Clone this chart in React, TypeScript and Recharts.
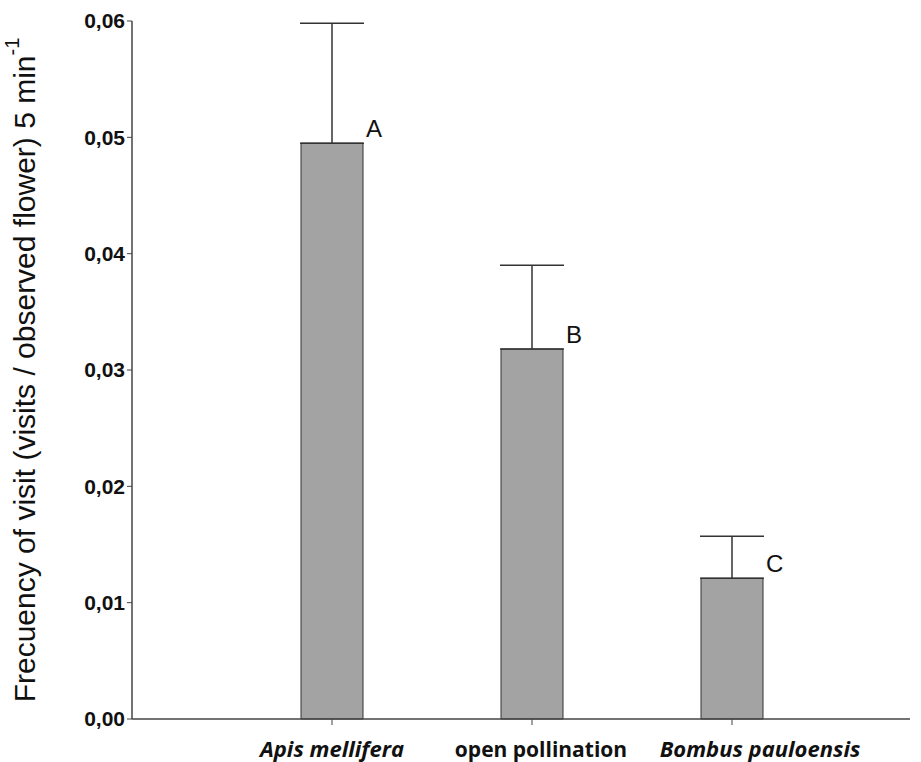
import { Bar, BarChart, ErrorBar, LabelList, XAxis, YAxis } from "recharts";

const categories = ["Apis mellifera", "open pollination", "Bombus pauloensis"];
const italicCats = [true, false, true];
const means = [0.0495, 0.0318, 0.0121];
const upperErr = [0.0103, 0.0072, 0.0036];
const letters = ["A", "B", "C"];
const yTicks = [0, 0.01, 0.02, 0.03, 0.04, 0.05, 0.06];

const data = categories.map((name, i) => ({
  name,
  mean: means[i],
  err: [0, upperErr[i]],
  letter: letters[i],
}));

const axisColor = "#444";
// the category labels in the original are not quite centred on their ticks
const labelShift = [0, 9, 28];

function CatTick({ x, y, payload }: any) {
  const i = categories.indexOf(payload.value);
  return (
    <text
      x={x + labelShift[i]}
      y={y + 30}
      textAnchor="middle"
      fontFamily="'Open Sans', sans-serif"
      fontWeight={700}
      fontStyle={italicCats[i] ? "italic" : "normal"}
      fontSize={italicCats[i] ? 22 : 21}
      fill="#111"
    >
      {payload.value}
    </text>
  );
}

function YTitle({ viewBox }: any) {
  const cy = viewBox.y + viewBox.height / 2;
  const cx = 24;
  return (
    <text
      x={cx}
      y={cy}
      transform={`rotate(-90 ${cx} ${cy})`}
      textAnchor="middle"
      dominantBaseline="central"
      fontFamily="'Liberation Sans', Arial, sans-serif"
      fontSize={30}
      fill="#111"
    >
      Frecuency of visit (visits / observed flower) 5 min
      <tspan dy={-12} fontSize={20}>
        -1
      </tspan>
    </text>
  );
}

function LetterLabel({ x, y, width, value }: any) {
  return (
    <text
      x={x + width + 3}
      y={y - 6}
      fontFamily="'Liberation Sans', Arial, sans-serif"
      fontSize={24}
      fill="#111"
    >
      {value}
    </text>
  );
}

export default function App() {
  return (
    <div style={{ position: "absolute", left: 0, top: 0, background: "#fff" }}>
      <BarChart
        width={921}
        height={762}
        data={data}
        margin={{ top: 21, right: 11, bottom: 0, left: 0 }}
      >
        <XAxis
          dataKey="name"
          height={43}
          padding={{ left: 100, right: 78 }}
          axisLine={{ stroke: axisColor, strokeWidth: 1.5 }}
          tickLine={{ stroke: axisColor }}
          tickSize={6}
          tick={<CatTick />}
          interval={0}
        />
        <YAxis
          width={132}
          domain={[0, 0.06]}
          ticks={yTicks}
          tickFormatter={(v: number) => v.toFixed(2).replace(".", ",")}
          axisLine={{ stroke: axisColor, strokeWidth: 1.5 }}
          tickLine={{ stroke: axisColor }}
          tickSize={5}
          tickMargin={2}
          tick={{
            fontFamily: "'Liberation Sans', Arial, sans-serif",
            fontWeight: 700,
            fontSize: 21,
            fill: "#111",
          }}
          label={<YTitle />}
        />
        <Bar
          dataKey="mean"
          barSize={62}
          fill="#a3a3a3"
          stroke="#333"
          strokeWidth={1}
          isAnimationActive={false}
        >
          <ErrorBar
            dataKey="err"
            width={32}
            stroke="#333"
            strokeWidth={1.5}
            direction="y"
            isAnimationActive={false}
          />
          <LabelList dataKey="letter" content={<LetterLabel />} />
        </Bar>
      </BarChart>
    </div>
  );
}
